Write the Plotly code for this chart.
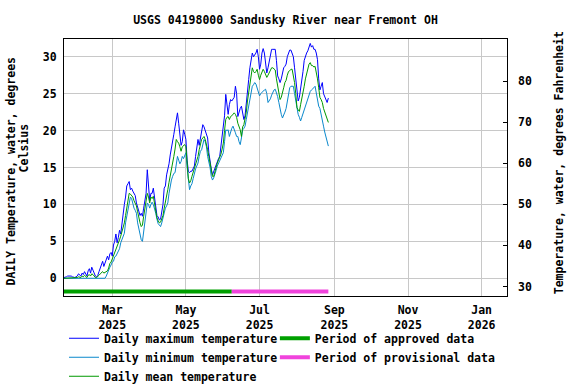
import plotly.graph_objects as go
import pandas as pd

start_date = "2025-01-20"
n_days = 220

daily_max = [
    0.1, 0.1, 0.2, 0.3, 0.3, 0.4, 0.3, 0.2, 0.1, 0.1,
    0.2, 0.3, 0.6, 0.4, 0.3, 0.7, 0.5, 0.9, 0.5, 0.3,
    1.0, 1.3, 0.7, 1.5, 1.1, 0.7, 0.3, 0.2, 0.4, 0.9,
    1.4, 2.0, 2.3, 1.6, 2.0, 2.5, 3.0, 2.5, 3.3, 3.5,
    3.0, 4.5, 5.0, 6.0, 4.8, 5.5, 6.5, 6.0, 7.5, 8.5,
    10.0, 11.0, 12.5, 12.8, 13.1, 12.0, 12.2, 11.8, 11.5, 11.2,
    10.2, 9.5, 9.0, 8.5, 8.8, 8.4, 9.5, 10.5, 11.5, 14.7,
    12.5, 10.5, 11.5, 11.5, 12.2, 11.0, 9.3, 8.5, 8.3, 7.9,
    8.0, 9.0, 10.0, 12.2, 12.5, 14.0, 14.7, 15.5, 16.7, 17.5,
    18.8, 19.5, 20.5, 21.5, 22.4, 21.0, 19.5, 18.0, 18.5, 20.1,
    19.5, 18.8, 16.0, 14.5, 14.3, 14.5, 14.5, 15.0, 15.2, 16.5,
    18.0, 18.8, 18.0, 19.0, 20.0, 20.8, 20.5, 20.0, 19.5, 19.0,
    17.0, 15.6, 14.8, 14.0, 14.5, 14.7, 15.5, 16.0, 16.2, 16.5,
    18.0, 19.0, 20.1, 22.0, 24.9, 23.5, 22.2, 23.5, 24.2, 24.0,
    24.3, 24.5, 26.0, 25.0, 21.9, 22.5, 23.0, 23.3, 22.5, 21.5,
    22.0, 23.5, 24.5, 26.9, 28.5, 29.4, 30.5, 30.0, 30.2, 30.5,
    31.0, 30.0, 28.3, 29.0, 30.5, 31.1, 30.5, 29.0, 27.8, 28.5,
    29.5, 30.5, 31.0, 31.0, 31.0, 31.0, 29.5, 27.4, 27.0, 26.5,
    27.0, 28.0, 28.5, 28.7, 29.0, 30.0, 30.5, 30.9, 30.9, 30.5,
    30.0, 28.5, 26.9, 25.5, 24.0, 24.5, 25.5, 26.5, 28.0, 29.5,
    30.1, 30.5, 30.8, 31.2, 31.8, 31.3, 31.5, 31.0, 31.0, 30.5,
    29.6, 27.0, 25.5, 26.0, 26.5, 25.0, 24.5, 24.2, 23.8, 24.4,
]

daily_min = [
    0.0, 0.0, 0.0, 0.0, 0.0, 0.0, 0.0, 0.0, 0.0, 0.0,
    0.0, 0.0, 0.0, 0.0, 0.0, 0.0, 0.0, 0.0, 0.0, 0.0,
    0.0, 0.0, 0.0, 0.0, 0.0, 0.0, 0.0, 0.0, 0.0, 0.0,
    0.0, 0.0, 0.0, 0.0, 0.0, 0.3, 0.8, 1.2, 1.5, 1.8,
    2.2, 2.3, 2.9, 3.0, 3.4, 3.8, 4.0, 4.8, 5.2, 5.8,
    6.1, 7.5, 8.4, 9.5, 10.6, 11.0, 10.8, 10.0, 9.5, 9.2,
    8.8, 7.5, 6.6, 5.8, 5.2, 5.0, 6.5, 7.5, 9.0, 10.2,
    10.0, 9.5, 10.0, 10.3, 10.0, 9.5, 8.8, 8.0, 7.4, 7.2,
    7.0, 7.5, 8.2, 8.8, 9.5, 9.8, 10.2, 11.5, 12.5, 13.3,
    13.8, 14.2, 14.3, 15.5, 16.5, 16.0, 15.5, 15.8, 16.5, 16.2,
    16.5, 17.0, 15.0, 13.0, 12.0, 12.5, 12.8, 13.5, 14.3, 14.8,
    15.2, 15.6, 16.5, 17.2, 17.4, 18.2, 18.8, 18.5, 17.8, 16.5,
    15.8, 15.0, 13.8, 13.3, 13.6, 14.3, 14.6, 15.2, 15.6, 16.0,
    16.3, 16.6, 17.0, 18.5, 20.1, 20.0, 20.1, 19.2, 19.8, 20.3,
    20.6, 20.0, 19.7, 19.2, 19.2, 18.5, 18.1, 19.0, 20.1, 20.3,
    20.6, 21.5, 22.5, 23.3, 24.0, 25.0, 26.0, 26.2, 26.5, 26.3,
    25.8, 25.2, 24.7, 25.0, 25.2, 25.3, 25.5, 25.6, 25.0, 23.8,
    24.0, 24.3, 24.8, 25.3, 25.5, 25.6, 25.2, 24.6, 23.8, 22.9,
    22.2, 21.7, 22.0, 22.5, 23.0, 24.0, 25.0, 25.8, 26.0, 26.0,
    26.0, 25.0, 24.0, 23.0, 22.2, 21.8, 21.3, 21.8, 22.3, 22.8,
    23.3, 24.0, 24.5, 25.0, 25.3, 25.5, 25.6, 25.8, 26.0, 25.0,
    24.3, 23.3, 23.0, 22.0, 21.5, 20.6, 19.8, 19.2, 18.3, 17.9,
]

daily_mean = [
    0.0, 0.0, 0.1, 0.1, 0.1, 0.1, 0.1, 0.0, 0.0, 0.0,
    0.0, 0.1, 0.2, 0.2, 0.1, 0.3, 0.2, 0.4, 0.2, 0.1,
    0.4, 0.5, 0.3, 0.6, 0.5, 0.3, 0.1, 0.1, 0.2, 0.4,
    0.6, 0.8, 0.9, 0.7, 0.8, 1.0, 1.0, 1.4, 2.0, 2.2,
    2.6, 3.0, 3.5, 3.8, 4.2, 4.8, 5.2, 5.7, 6.2, 7.0,
    7.5, 8.5, 9.5, 10.2, 11.5, 11.4, 11.2, 11.0, 10.5, 10.2,
    9.8, 9.0, 8.0, 7.5, 7.0, 7.2, 8.4, 9.5, 10.5, 11.5,
    11.0, 10.2, 11.0, 10.8, 11.1, 10.0, 9.0, 8.2, 7.8, 7.5,
    7.6, 8.0, 8.5, 9.5, 10.2, 11.0, 12.0, 13.0, 13.8, 14.5,
    15.6, 16.5, 17.5, 18.8, 18.5, 18.3, 17.8, 17.2, 17.8, 18.0,
    18.1, 17.8, 15.5, 13.5, 12.9, 13.2, 13.8, 14.3, 14.8, 15.2,
    15.8, 16.5, 17.4, 18.0, 18.8, 19.0, 19.2, 18.8, 18.2, 17.4,
    16.5, 15.5, 14.2, 13.8, 13.8, 14.5, 15.0, 15.6, 16.0, 16.3,
    16.8, 17.5, 18.3, 20.0, 21.5, 21.8, 21.9, 21.5, 21.9, 22.0,
    22.2, 22.4, 22.2, 21.8, 21.0, 20.5, 20.1, 19.2, 20.5, 20.8,
    21.5, 22.5, 24.0, 25.1, 26.8, 27.8, 28.5, 28.0, 27.8, 28.0,
    28.3, 27.5, 26.9, 27.5, 27.8, 28.3, 28.0, 27.5, 27.2, 27.5,
    27.8, 28.2, 28.5, 28.5, 28.3, 28.2, 27.0, 26.0, 25.2, 24.2,
    24.5, 25.0, 25.8, 26.5, 26.8, 27.5, 28.0, 28.1, 28.3, 28.3,
    27.5, 26.5, 25.0, 23.1, 22.8, 22.6, 23.5, 24.2, 25.0, 26.0,
    27.0, 27.8, 28.3, 29.0, 29.2, 28.8, 28.8, 28.6, 28.7, 28.0,
    27.0, 25.8, 24.5, 24.2, 23.8, 23.0, 22.5, 21.9, 21.5, 21.1,
]

approved_period = ["2025-01-19", "2025-06-08"]
provisional_period = ["2025-06-08", "2025-08-27"]
period_bar_level = [-1.8, -1.8]

x_tick_start = "2025-03-01"
x_range = ["2025-01-20", "2026-01-22"]
y_range_c = [-2.4, 32.4]
y2_tickvals = [30, 40, 50, 60, 70, 80]

title_text = "USGS 04198000 Sandusky River near Fremont OH"
left_title_lines = ["DAILY Temperature, water, degrees", "Celsius"]
right_title_text = "Temperature, water, degrees Fahrenheit"

dates = pd.date_range(start_date, periods=n_days, freq="D")

FONT = "DejaVu Sans Mono"
GRID = "#c8c8c8"
FS = 11.5

fig = go.Figure()
fig.add_trace(go.Scatter(x=dates, y=daily_max, mode="lines", name="Daily maximum temperature",
                         line=dict(color="#0000ff", width=1), legend="legend"))
fig.add_trace(go.Scatter(x=dates, y=daily_min, mode="lines", name="Daily minimum temperature",
                         line=dict(color="#0a88cc", width=1), legend="legend"))
fig.add_trace(go.Scatter(x=dates, y=daily_mean, mode="lines", name="Daily mean temperature",
                         line=dict(color="#009900", width=1), legend="legend"))
fig.add_trace(go.Scatter(x=approved_period, y=period_bar_level, mode="lines", name="Period of approved data",
                         line=dict(color="#00a000", width=4), legend="legend2"))
fig.add_trace(go.Scatter(x=provisional_period, y=period_bar_level, mode="lines", name="Period of provisional data",
                         line=dict(color="#f044dc", width=4), legend="legend2"))
# Fahrenheit companion (invisible) so the right axis is drawn
fig.add_trace(go.Scatter(x=dates, y=[v * 1.8 + 32 for v in daily_mean], mode="lines", yaxis="y2",
                         line=dict(width=0), opacity=0, showlegend=False, hoverinfo="skip"))

font_b = dict(family=FONT, size=FS, color="black", weight="bold")

fig.update_layout(
    width=576, height=384,
    margin=dict(l=64, r=69, t=39, b=88, autoexpand=False),
    paper_bgcolor="white", plot_bgcolor="white",
    font=font_b,
    title=dict(text=title_text, x=0.5, xref="paper", xanchor="center",
               y=1 - 20 / 384, yref="container", yanchor="middle", font=font_b),
    xaxis=dict(type="date", range=x_range, tick0=x_tick_start, dtick="M2", tickformat="%b<br>%Y",
               showgrid=True, gridcolor=GRID, gridwidth=1, showline=True, linecolor="black", linewidth=1,
               mirror=True, ticks="outside", ticklen=3, tickcolor="rgba(0,0,0,0)", zeroline=False,
               automargin=False),
    yaxis=dict(range=y_range_c, tick0=0, dtick=5, showgrid=True, gridcolor=GRID, gridwidth=1,
               showline=True, linecolor="black", linewidth=1, mirror=True, ticks="outside", ticklen=4,
               tickcolor="rgba(0,0,0,0)", zeroline=False, automargin=False),
    yaxis2=dict(overlaying="y", side="right", range=[y_range_c[0] * 1.8 + 32, y_range_c[1] * 1.8 + 32],
                tickmode="array", tickvals=y2_tickvals, showgrid=False, ticks="inside", ticklen=4,
                tickcolor="black", ticklabelstandoff=10, zeroline=False, showline=False, automargin=False),
    legend=dict(x=0.0, y=-0.108, xanchor="left", yanchor="top", orientation="v",
                bgcolor="rgba(0,0,0,0)", tracegroupgap=0, itemwidth=30),
    legend2=dict(x=0.476, y=-0.108, xanchor="left", yanchor="top", orientation="v",
                 bgcolor="rgba(0,0,0,0)", tracegroupgap=0, itemwidth=30),
    showlegend=True,
    annotations=[
        dict(text=left_title_lines[0], xref="paper", yref="paper", x=-0.1205, y=0.483,
             xanchor="center", yanchor="middle", textangle=-90, showarrow=False, font=font_b),
        dict(text=left_title_lines[1], xref="paper", yref="paper", x=-0.0911, y=0.573,
             xanchor="center", yanchor="middle", textangle=-90, showarrow=False, font=font_b),
        dict(text=right_title_text, xref="paper", yref="paper", x=1.116, y=0.518,
             xanchor="center", yanchor="middle", textangle=-90, showarrow=False, font=font_b),
    ],
)

fig.write_html("out.html",
               config={"displayModeBar": False},
               post_script="document.body.style.margin='0px';document.body.style.padding='0px';"
                           "document.body.style.overflow='hidden';")
